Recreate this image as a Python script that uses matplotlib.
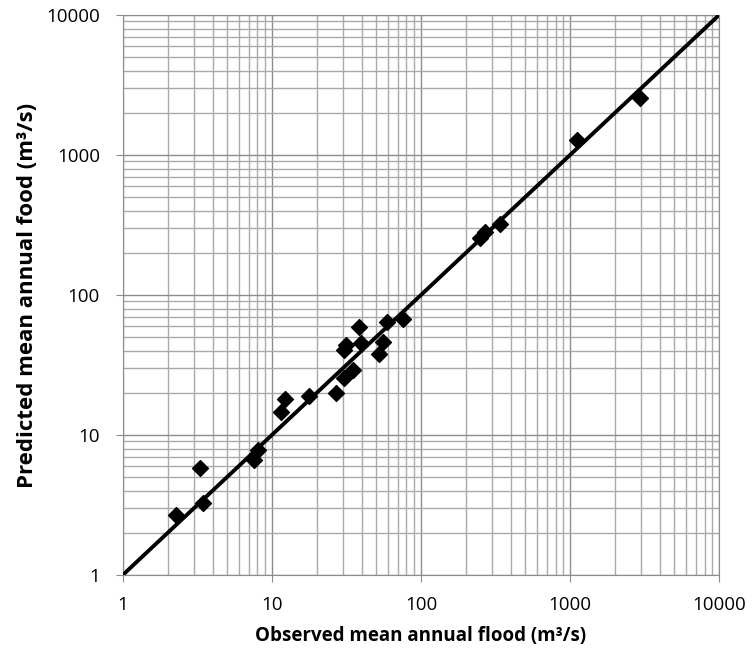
import matplotlib.pyplot as plt
import numpy as np

# observed vs predicted mean annual flood (m3/s)
observed = [2.28, 3.31, 3.47, 7.62, 8.11, 11.6, 12.3, 17.8, 27.0, 30.6, 35.0,
            30.6, 31.6, 38.7, 39.6, 52.0, 55.6, 59.1, 76.4, 250, 268, 340,
            1112, 2925]
predicted = [2.68, 5.81, 3.27, 6.63, 7.81, 14.6, 18.1, 19.0, 19.9, 25.4, 29.1,
             40.5, 43.9, 58.8, 45.2, 37.9, 45.9, 64.5, 67.0, 255, 282, 320,
             1279, 2541]
line_range = [1, 10000]
tick_vals = [1, 10, 100, 1000, 10000]
tick_labels = ['1', '10', '100', '1000', '10000']

plt.rcParams['font.family'] = ['Open Sans', 'DejaVu Sans']

fig = plt.figure(figsize=(7.53, 6.63), dpi=100)
ax = fig.add_axes([0.163, 0.1327, 0.792, 0.8447])

ax.set_xscale('log')
ax.set_yscale('log')
ax.set_xlim(1, 10000)
ax.set_ylim(1, 10000)

ax.grid(True, which='major', color='#8c8c8c', linewidth=1.0)
ax.grid(True, which='minor', color='#aaaaaa', linewidth=1.0)
ax.set_axisbelow(True)

ax.plot(line_range, line_range, color='black', linewidth=2.8, zorder=3)
ax.scatter(observed, predicted, marker='D', s=65, color='black', zorder=4)

ax.set_xticks(tick_vals)
ax.set_xticklabels(tick_labels)
ax.set_yticks(tick_vals)
ax.set_yticklabels(tick_labels)
ax.tick_params(which='major', direction='out', length=5, color='#8c8c8c',
               labelsize=13.5)
ax.tick_params(axis='x', pad=10)
ax.tick_params(axis='y', pad=11.5)
ax.tick_params(which='minor', length=0)
for s in ax.spines.values():
    s.set_color('#8c8c8c')

ax.set_xlabel('Observed mean annual flood (m³/s)', fontsize=13.5,
              fontweight='bold', labelpad=9)
ax.set_ylabel('Predicted mean annual food (m³/s)', fontsize=16,
              fontweight='bold', labelpad=6)

fig.savefig('out.png', dpi=100)
